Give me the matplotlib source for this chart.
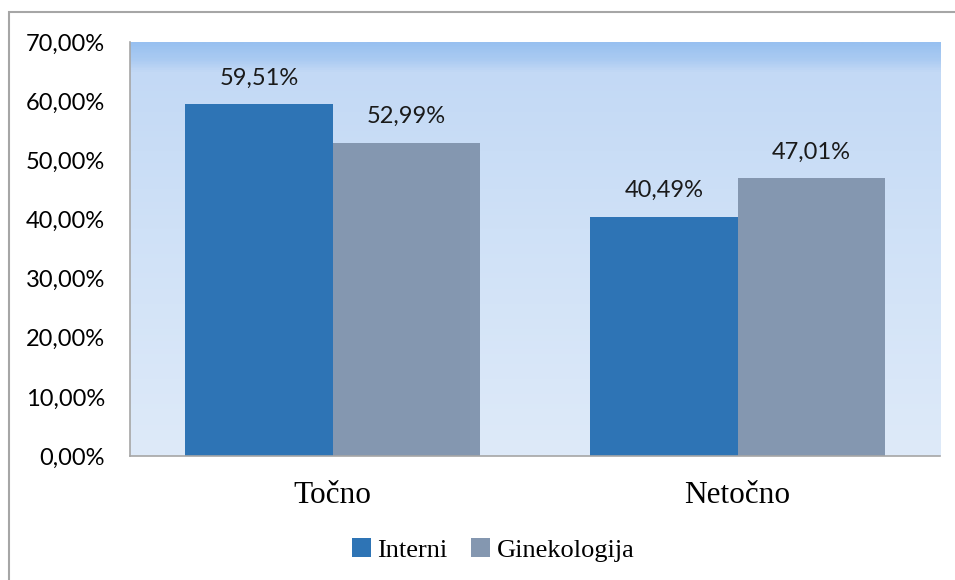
import matplotlib
matplotlib.use("Agg")
import matplotlib.pyplot as plt
import numpy as np
from matplotlib.colors import LinearSegmentedColormap
from matplotlib.patches import Rectangle

categories = ["Točno", "Netočno"]
series_names = ["Interni", "Ginekologija"]
interni = [59.51, 40.49]
ginekologija = [52.99, 47.01]
yticks = [0, 10, 20, 30, 40, 50, 60, 70]

colors = ["#2E74B5", "#8497B0"]
W, H = 955, 580
fig = plt.figure(figsize=(W/100, H/100), dpi=100)

# outer chart border
fig.patches.append(Rectangle((9/W, -0.01), 1.02, 1 - 12/H + 0.01, transform=fig.transFigure,
                             fill=False, edgecolor="#A6A6A6", linewidth=1.5))

ax = fig.add_axes([130/W, 1 - 456/H, 810/W, (456-42)/H])
ax.set_xlim(0, 2)
ax.set_ylim(0, 70)

# gradient background
cmap = LinearSegmentedColormap.from_list("bg", [
    (0.0, "#DEEAF9"), (0.55, "#CFE1F7"), (0.93, "#C3D9F5"), (0.96, "#ABCBF2"), (1.0, "#98C0F0")])
grad = np.linspace(0, 1, 400).reshape(-1, 1)
ax.imshow(grad, aspect="auto", cmap=cmap, origin="lower", extent=[0, 2, 0, 70], zorder=0)

x = np.arange(len(categories)) + 0.5
bw = 0.363
font_num = "Lato"
for i, (vals, c) in enumerate(zip([interni, ginekologija], colors)):
    pos = x + (i - 0.5) * bw
    ax.bar(pos, vals, width=bw, color=c, zorder=2, label=series_names[i])
    for p, v in zip(pos, vals):
        ax.text(p, v + 2.6, f"{v:.2f}%".replace(".", ","), ha="center", va="bottom",
                fontsize=17, family=font_num, color="#1a1a1a")

ax.set_yticks(yticks)
ax.set_yticklabels([f"{t:.2f}%".replace(".", ",") for t in yticks], family=font_num, fontsize=17)
ax.set_xticks(x)
ax.set_xticklabels(categories, family="Liberation Serif", fontsize=22.5)
ax.tick_params(axis="y", length=0, pad=18)
ax.tick_params(axis="x", length=0, pad=18)
for s in ["top", "right"]:
    ax.spines[s].set_visible(False)
for s in ["left", "bottom"]:
    ax.spines[s].set_color("#A6A6A6")
    ax.spines[s].set_linewidth(1.2)

leg = fig.legend(loc="center", bbox_to_anchor=(493/W, 1 - 550/H), ncol=2, frameon=False,
                 prop={"family": "Liberation Serif", "size": 19}, handlelength=0.72,
                 handleheight=0.72, handletextpad=0.25, columnspacing=0.9)

fig.savefig("out.png", dpi=100)
